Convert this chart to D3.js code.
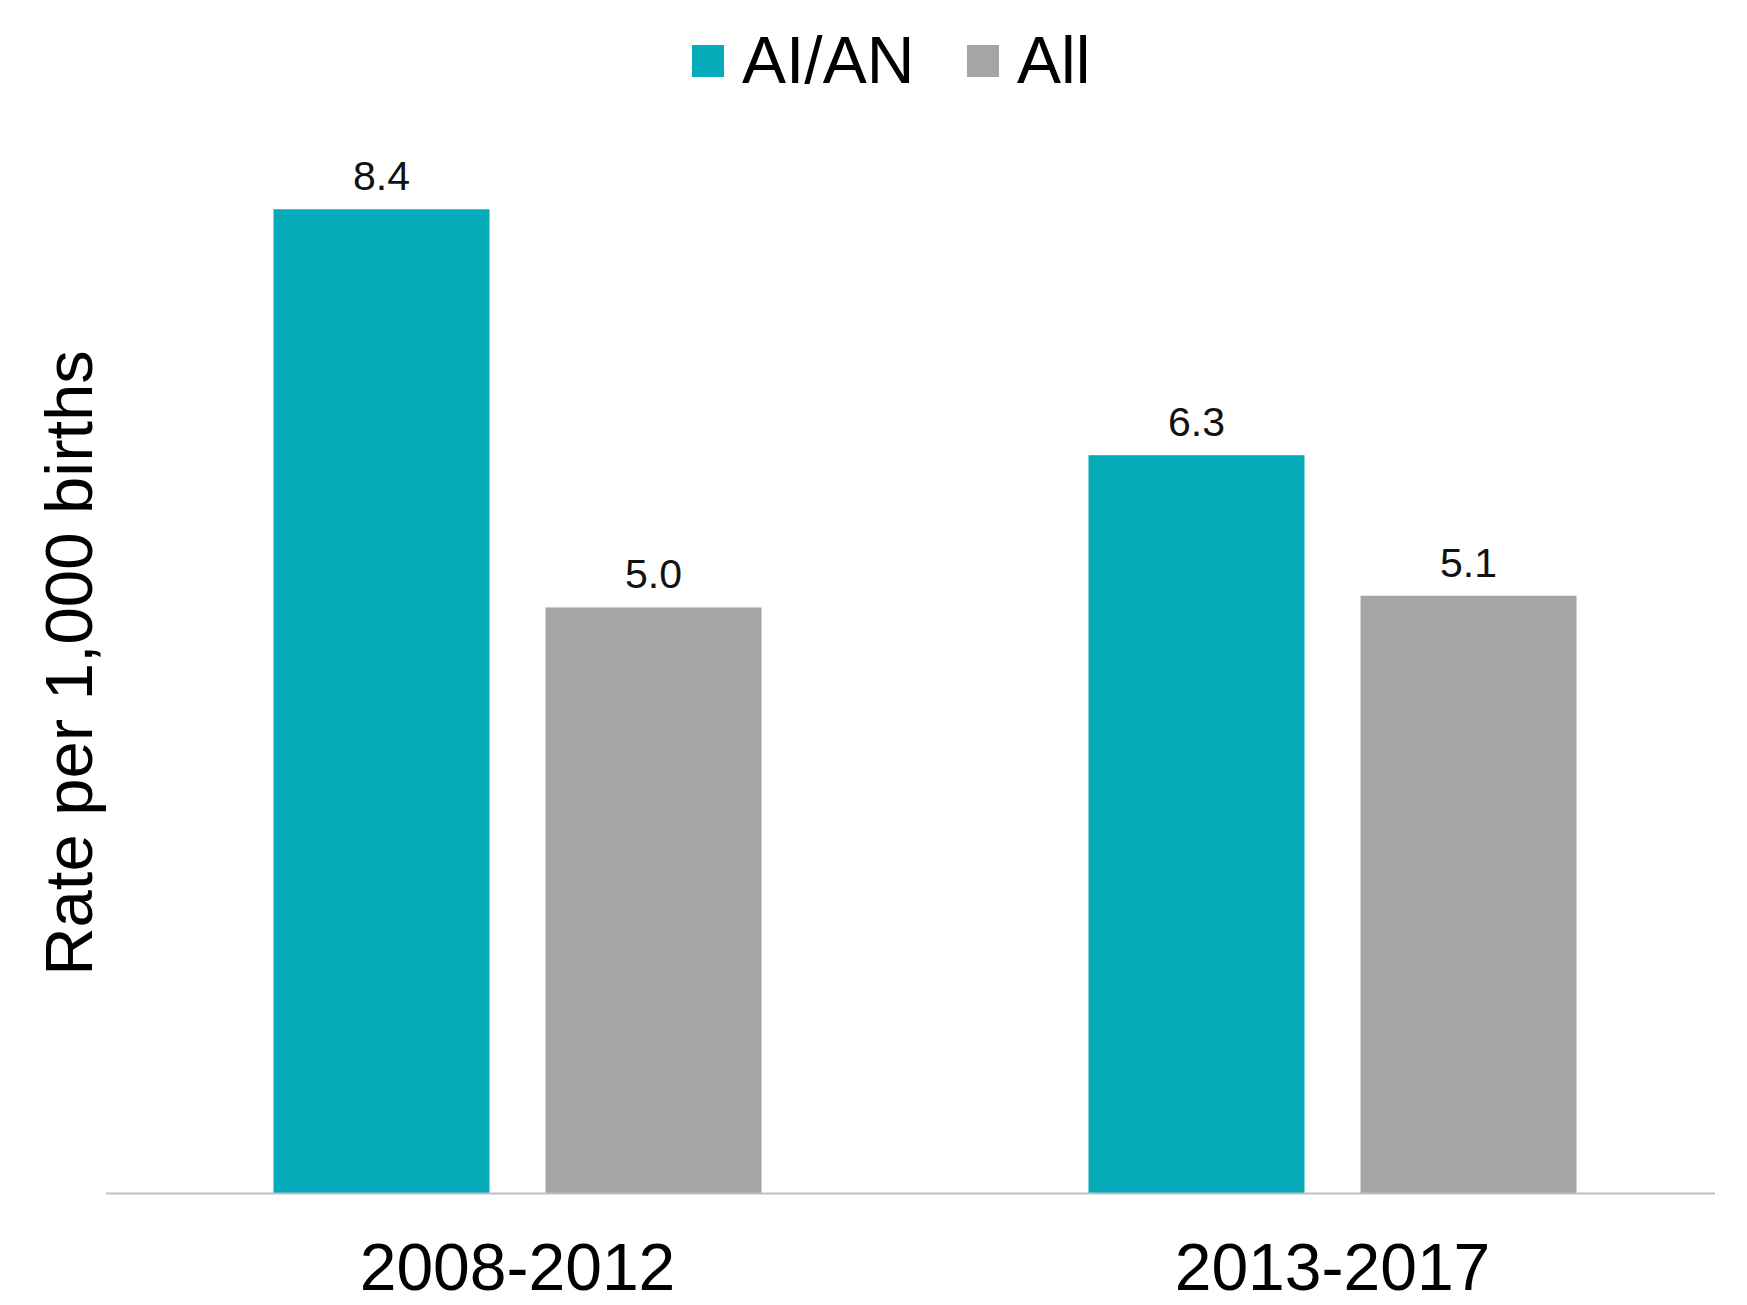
<!DOCTYPE html>
<html>
<head>
<meta charset="utf-8">
<script src="https://cdn.jsdelivr.net/npm/d3@7"></script>
<style>
  body { margin: 0; background: #fff; }
  svg { display: block; font-family: "Liberation Sans", Arial, sans-serif; }
</style>
</head>
<body>
<svg width="1747" height="1305"></svg>
<script>
const svg = d3.select("svg");

// data
const periods = ["2008-2012", "2013-2017"];
const series = ["AI/AN", "All"];
const aianRates = [8.4, 6.3];
const allRates = [5.0, 5.1];
const colors = ["#05abb8", "#a5a5a5"];

const rows = periods.map((p, i) => ({ period: p, values: [aianRates[i], allRates[i]] }));

const baseline = 1193;

const x0 = d3.scaleBand()
    .domain(periods)
    .range([110, 1740]);

const groupWidth = 488;
const x1 = d3.scaleBand()
    .domain(series)
    .range([0, groupWidth])
    .paddingInner(0.206);

const y = d3.scaleLinear()
    .domain([0, 9])
    .range([baseline, 139]);

const color = d3.scaleOrdinal().domain(series).range(colors);

// bars
const groups = svg.append("g")
    .selectAll("g")
    .data(rows)
    .enter().append("g")
    .attr("transform", d => `translate(${x0(d.period) + (x0.bandwidth() - groupWidth) / 2},0)`);

groups.selectAll("rect")
    .data(d => d.values.map((v, j) => ({ key: series[j], value: v })))
    .enter().append("rect")
    .attr("x", d => x1(d.key))
    .attr("y", d => y(d.value))
    .attr("width", x1.bandwidth())
    .attr("height", d => baseline - y(d.value))
    .style("fill", d => color(d.key));

// value labels
groups.selectAll("text")
    .data(d => d.values.map((v, j) => ({ key: series[j], value: v })))
    .enter().append("text")
    .attr("x", d => x1(d.key) + x1.bandwidth() / 2)
    .attr("y", d => y(d.value) - 19)
    .attr("text-anchor", "middle")
    .attr("font-size", 41)
    .attr("fill", "#111")
    .text(d => d3.format(".1f")(d.value));

// x axis
const xAxis = svg.append("g")
    .attr("transform", `translate(0,${baseline})`)
    .call(d3.axisBottom(x0).tickSize(0).tickPadding(50));

xAxis.select(".domain").remove();
xAxis.selectAll("text")
    .attr("font-size", 66)
    .attr("font-family", "Liberation Sans, Arial, sans-serif")
    .attr("fill", "#000");

svg.append("line")
    .attr("x1", 106)
    .attr("x2", 1715)
    .attr("y1", baseline + 0.5)
    .attr("y2", baseline + 0.5)
    .style("stroke", "#bfbfbf")
    .style("stroke-width", 2);

// y title
svg.append("text")
    .attr("transform", "translate(92,663) rotate(-90)")
    .attr("text-anchor", "middle")
    .attr("font-size", 67)
    .attr("fill", "#000")
    .text("Rate per 1,000 births");

// legend
const legendX = [692, 967];
const legend = svg.append("g")
    .selectAll("g")
    .data(series)
    .enter().append("g")
    .attr("transform", (d, i) => `translate(${legendX[i]},45)`);

legend.append("rect")
    .attr("width", 32)
    .attr("height", 32)
    .style("fill", d => color(d));

legend.append("text")
    .attr("x", 50)
    .attr("y", 38)
    .attr("font-size", 66)
    .attr("fill", "#000")
    .text(d => d);
</script>
</body>
</html>
